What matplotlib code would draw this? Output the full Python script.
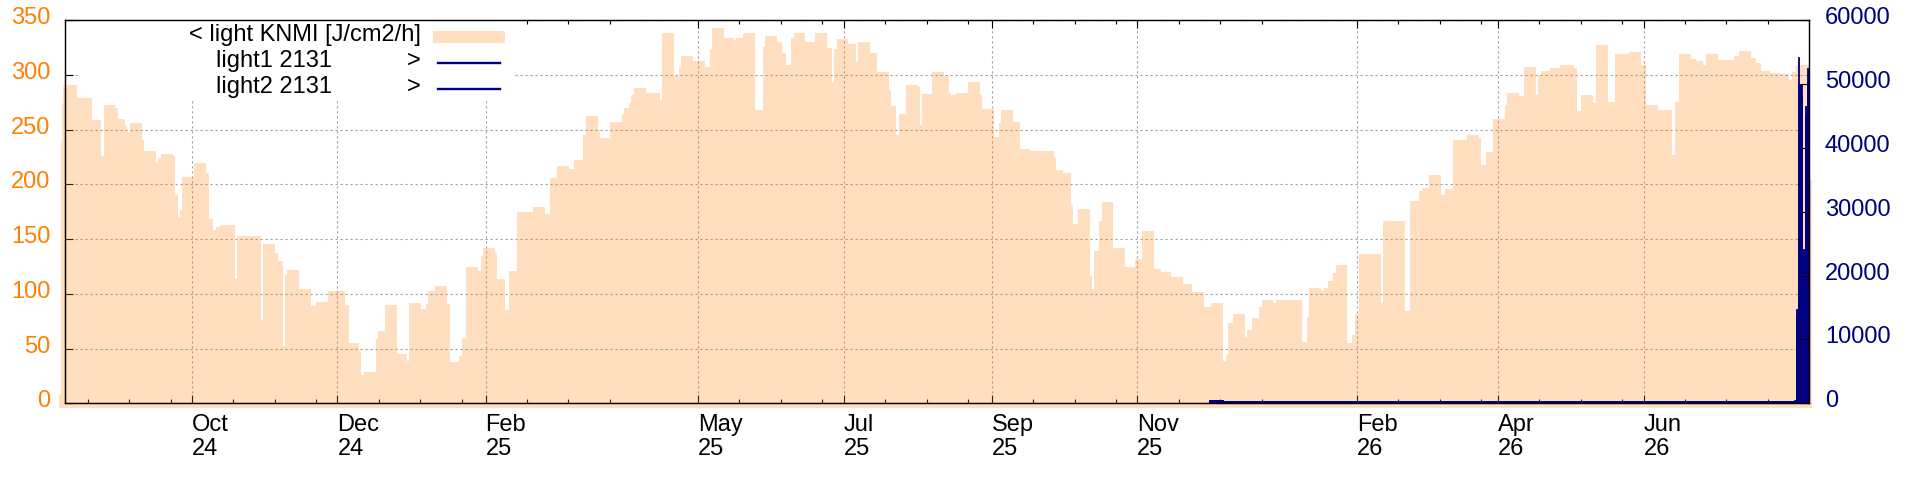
import pandas as pd
import matplotlib
matplotlib.use("Agg")
import matplotlib.pyplot as plt
from matplotlib.patches import Rectangle
from matplotlib.lines import Line2D
from matplotlib.transforms import ScaledTranslation

plt.rcParams['font.family'] = ['Liberation Sans', 'DejaVu Sans']

# -----------------------------
# Data
# -----------------------------

# KNMI light, J/cm2/h, step series (start date of each step)
knmi_dates = [
    "2024-08-06 12:00", "2024-08-07 00:00", "2024-08-07 12:00", "2024-08-08",
    "2024-08-14", "2024-08-20", "2024-08-24", "2024-08-25", "2024-08-30", "2024-08-31",
    "2024-09-03", "2024-09-04", "2024-09-05", "2024-09-10", "2024-09-11", "2024-09-16",
    "2024-09-17", "2024-09-18", "2024-09-23", "2024-09-24", "2024-09-25", "2024-09-26",
    "2024-09-27", "2024-10-02", "2024-10-07", "2024-10-08", "2024-10-10", "2024-10-11",
    "2024-10-13", "2024-10-19", "2024-10-20", "2024-10-30", "2024-10-31", "2024-11-05",
    "2024-11-06", "2024-11-08", "2024-11-09", "2024-11-10", "2024-11-15", "2024-11-20",
    "2024-11-22", "2024-11-27", "2024-12-04", "2024-12-06", "2024-12-10", "2024-12-11",
    "2024-12-12", "2024-12-17", "2024-12-18", "2024-12-21", "2024-12-26", "2024-12-30",
    "2024-12-31", "2025-01-05", "2025-01-07", "2025-01-08", "2025-01-11", "2025-01-16",
    "2025-01-17", "2025-01-21", "2025-01-22", "2025-01-24", "2025-01-29", "2025-01-30",
    "2025-01-31", "2025-02-05", "2025-02-06", "2025-02-09", "2025-02-11", "2025-02-14",
    "2025-02-21", "2025-02-26", "2025-02-28", "2025-03-03", "2025-03-08", "2025-03-10",
    "2025-03-14", "2025-03-15", "2025-03-20", "2025-03-21", "2025-03-25", "2025-03-30",
    "2025-03-31", "2025-04-02", "2025-04-03", "2025-04-04", "2025-04-09", "2025-04-15",
    "2025-04-16", "2025-04-21", "2025-04-23", "2025-04-24", "2025-04-29", "2025-05-04",
    "2025-05-06", "2025-05-07", "2025-05-12", "2025-05-16", "2025-05-17", "2025-05-20",
    "2025-05-25", "2025-05-28", "2025-05-29", "2025-06-03", "2025-06-05", "2025-06-07",
    "2025-06-09", "2025-06-10", "2025-06-15", "2025-06-19", "2025-06-24", "2025-06-26",
    "2025-06-27", "2025-06-28", "2025-07-03", "2025-07-06", "2025-07-07", "2025-07-12",
    "2025-07-15", "2025-07-20", "2025-07-21", "2025-07-23", "2025-07-24", "2025-07-27",
    "2025-08-01", "2025-08-02", "2025-08-03", "2025-08-07", "2025-08-12", "2025-08-14",
    "2025-08-15", "2025-08-17", "2025-08-22", "2025-08-27", "2025-08-28", "2025-09-02",
    "2025-09-04", "2025-09-05", "2025-09-10", "2025-09-13", "2025-09-17", "2025-09-27",
    "2025-09-28", "2025-10-01", "2025-10-04", "2025-10-05", "2025-10-07", "2025-10-12",
    "2025-10-13", "2025-10-14", "2025-10-16", "2025-10-17", "2025-10-22", "2025-10-27",
    "2025-10-31", "2025-11-03", "2025-11-08", "2025-11-11", "2025-11-15", "2025-11-20",
    "2025-11-24", "2025-11-29", "2025-12-02", "2025-12-07", "2025-12-08", "2025-12-09",
    "2025-12-11", "2025-12-16", "2025-12-17", "2025-12-19", "2025-12-22", "2025-12-23",
    "2025-12-28", "2025-12-29", "2026-01-09", "2026-01-11", "2026-01-12", "2026-01-17",
    "2026-01-18", "2026-01-20", "2026-01-22", "2026-01-23", "2026-01-28", "2026-01-30",
    "2026-01-31", "2026-02-02", "2026-02-11", "2026-02-12", "2026-02-21", "2026-02-23",
    "2026-02-27", "2026-02-28", "2026-03-03", "2026-03-08", "2026-03-10", "2026-03-13",
    "2026-03-19", "2026-03-24", "2026-03-25", "2026-03-27", "2026-03-30", "2026-04-04",
    "2026-04-05", "2026-04-10", "2026-04-12", "2026-04-17", "2026-04-18", "2026-04-19",
    "2026-04-23", "2026-04-27", "2026-05-03", "2026-05-04", "2026-05-06", "2026-05-11",
    "2026-05-12", "2026-05-17", "2026-05-20", "2026-05-26", "2026-05-31", "2026-06-02",
    "2026-06-07", "2026-06-13", "2026-06-14", "2026-06-16", "2026-06-21", "2026-06-23",
    "2026-06-26", "2026-06-27", "2026-07-02", "2026-07-09", "2026-07-11", "2026-07-16",
    "2026-07-18", "2026-07-20", "2026-07-24", "2026-07-28", "2026-08-01", "2026-08-02",
    "2026-08-04", "2026-08-09 07:00",
]
knmi_vals = [
    8, 240, 274, 291,
    279, 259, 226, 273, 270, 260,
    253, 248, 256, 241, 231, 220,
    224, 228, 226, 190, 170, 177,
    207, 220, 210, 168, 158, 161,
    163, 114, 153, 76, 146, 137,
    130, 52, 117, 122, 104, 89,
    93, 103, 90, 55, 48, 26,
    29, 59, 66, 90, 45, 39,
    92, 86, 91, 103, 107, 91,
    38, 43, 60, 125, 121, 135,
    142, 137, 114, 85, 121, 175,
    179, 173, 206, 217, 214, 222,
    245, 263, 250, 242, 257, 264,
    270, 274, 282, 288, 284, 277,
    338, 299, 307, 317, 313, 307,
    324, 343, 334, 332, 334, 338,
    268, 326, 336, 330, 320, 309,
    334, 338, 330, 338, 325, 293,
    324, 333, 328, 312, 330, 320,
    303, 286, 272, 245, 264, 291,
    289, 254, 283, 303, 299, 284,
    282, 284, 294, 282, 269, 243,
    256, 268, 257, 232, 231, 224,
    213, 210, 181, 164, 178, 116,
    104, 139, 167, 184, 142, 125,
    132, 157, 123, 120, 115, 109,
    102, 88, 92, 39, 44, 73,
    82, 61, 67, 78, 88, 94,
    92, 94, 56, 79, 105, 103,
    105, 112, 119, 126, 55, 62,
    82, 136, 92, 167, 84, 185,
    194, 197, 209, 190, 196, 241,
    245, 242, 218, 230, 260, 273,
    284, 281, 307, 282, 300, 304,
    306, 309, 306, 267, 282, 274,
    327, 275, 319, 321, 309, 273,
    268, 227, 275, 319, 315, 313,
    309, 319, 314, 317, 322, 316,
    311, 304, 302, 301, 295, 303,
    309, 204,
]
knmi_end = "2026-08-10 10:00"

# sensor light1 / light2 (right axis)
light1_dates = ["2025-12-01", "2025-12-07", "2026-08-03", "2026-08-03 21:00",
                "2026-08-04 14:00", "2026-08-05 07:00", "2026-08-06 07:00",
                "2026-08-06 17:00", "2026-08-07 17:00", "2026-08-08 14:00"]
light1_vals = [550, 350, 500, 14700, 54300, 50000, 18500, 24200, 46500, 52500]
light2_dates = ["2025-12-01", "2025-12-07", "2026-08-03", "2026-08-03 21:00",
                "2026-08-04 14:00", "2026-08-05 07:00", "2026-08-06 07:00",
                "2026-08-06 17:00", "2026-08-07 17:00", "2026-08-08 14:00"]
light2_vals = [450, 300, 400, 14000, 50000, 48000, 17000, 23000, 45000, 50000]
light_end = "2026-08-09 10:00"

# axis range and labelled ticks
x_start = "2024-08-09"
x_end = "2026-08-09 10:00"
major_dates = ["2024-10-01", "2024-12-01", "2025-02-01", "2025-05-01", "2025-07-01",
               "2025-09-01", "2025-11-01", "2026-02-01", "2026-04-01", "2026-06-01"]
minor_base = "2024-08-01"


def to_dt(lst):
    return pd.to_datetime(lst, format='mixed')


# -----------------------------
# Figure
# -----------------------------
W, H = 1920, 480
fig = plt.figure(figsize=(W / 100, H / 100), dpi=100)
ax = fig.add_axes([65.3 / W, 1 - 403.3 / H, 1744 / W, 383 / H])
ax2 = ax.twinx()

kd = to_dt(knmi_dates + [knmi_end])
kv = knmi_vals + [knmi_vals[-1]]
ax.fill_between(kd, -4.5, kv, step='post', color='#ff8000', alpha=0.25,
                lw=0, zorder=1, clip_on=False)

for dates, vals in [(light2_dates, light2_vals), (light1_dates, light1_vals)]:
    d = to_dt(dates + [light_end])
    v = vals + [vals[-1]]
    ax2.fill_between(d, 0, v, step='post', color='#000080', lw=0.6,
                     edgecolor='#000080')

ax.set_xlim(pd.Timestamp(x_start), pd.Timestamp(x_end))
ax.set_ylim(0, 350)
ax2.set_ylim(0, 60000)
ax.set_yticks(range(0, 351, 50))
ax2.set_yticks(range(0, 60001, 10000))

# x ticks
majors = to_dt(major_dates)
ax.set_xticks(majors)
ax.set_xticklabels([m.strftime("%b\n%y") for m in majors], ha='left')
for t in ax.get_xticklabels():
    t.set_linespacing(1.1)

step = pd.Timedelta(seconds=1500000)
bounds = [pd.Timestamp(minor_base)] + list(majors) + [pd.Timestamp(x_end)]
minors = []
for a, b in zip(bounds[:-1], bounds[1:]):
    for k in range(1, 4):
        t = a + k * step
        if t < b - pd.Timedelta(days=4):
            minors.append(t)
ax.set_xticks(minors, minor=True)

ax.grid(True, which='major', color='#a0a0a0', ls=(0, (2, 2.5)), lw=0.8)
ax.set_axisbelow(True)

ax.tick_params(axis='x', which='both', direction='in', top=True, bottom=True,
               width=0.8, labelsize=17, pad=8)
ax.tick_params(axis='x', which='major', length=5.8)
ax.tick_params(axis='x', which='minor', length=2.9)
ax.tick_params(axis='y', direction='in', length=5.8, width=0.8,
               labelcolor='#ff8000', labelsize=17, pad=10.5)
ax2.tick_params(axis='y', direction='in', length=5.8, width=0.8,
                labelcolor='#000080', labelsize=17, pad=11.3)

up = ScaledTranslation(0, 4.5 / 100, fig.dpi_scale_trans)
for t in ax.get_yticklabels() + ax2.get_yticklabels():
    t.set_transform(t.get_transform() + up)

for a in (ax, ax2):
    for s in a.spines.values():
        s.set_linewidth(0.9)

# opaque key background (hides grid, sits under the fill)
ax.add_patch(Rectangle(((78 - 65.3) / 1744, (403.3 - 101) / 383),
                       (515 - 78) / 1744, 1 - (403.3 - 101) / 383,
                       transform=ax.transAxes, facecolor='white',
                       edgecolor='none', zorder=0.8))


# key entries
def fx(px):
    return px / W


def fy(py):
    return 1 - py / H


fs = 17
fig.text(fx(420.7), fy(40.7), "< light KNMI [J/cm2/h]", ha='right', va='baseline', fontsize=fs)
fig.text(fx(216), fy(66.7), "light1 2131", ha='left', va='baseline', fontsize=fs)
fig.text(fx(420.7), fy(66.7), ">", ha='right', va='baseline', fontsize=fs)
fig.text(fx(216), fy(92.7), "light2 2131", ha='left', va='baseline', fontsize=fs)
fig.text(fx(420.7), fy(92.7), ">", ha='right', va='baseline', fontsize=fs)
fig.add_artist(Rectangle((fx(432.7), fy(42.7)), (505 - 432.7) / W, 12 / H,
                         transform=fig.transFigure, facecolor='#ff8000',
                         alpha=0.25, lw=0))
for yy in (62.7, 88.7):
    fig.add_artist(Line2D([fx(438), fx(500)], [fy(yy), fy(yy)],
                          transform=fig.transFigure, color='#000080', lw=1.7))

fig.savefig("out.png", dpi=100)
